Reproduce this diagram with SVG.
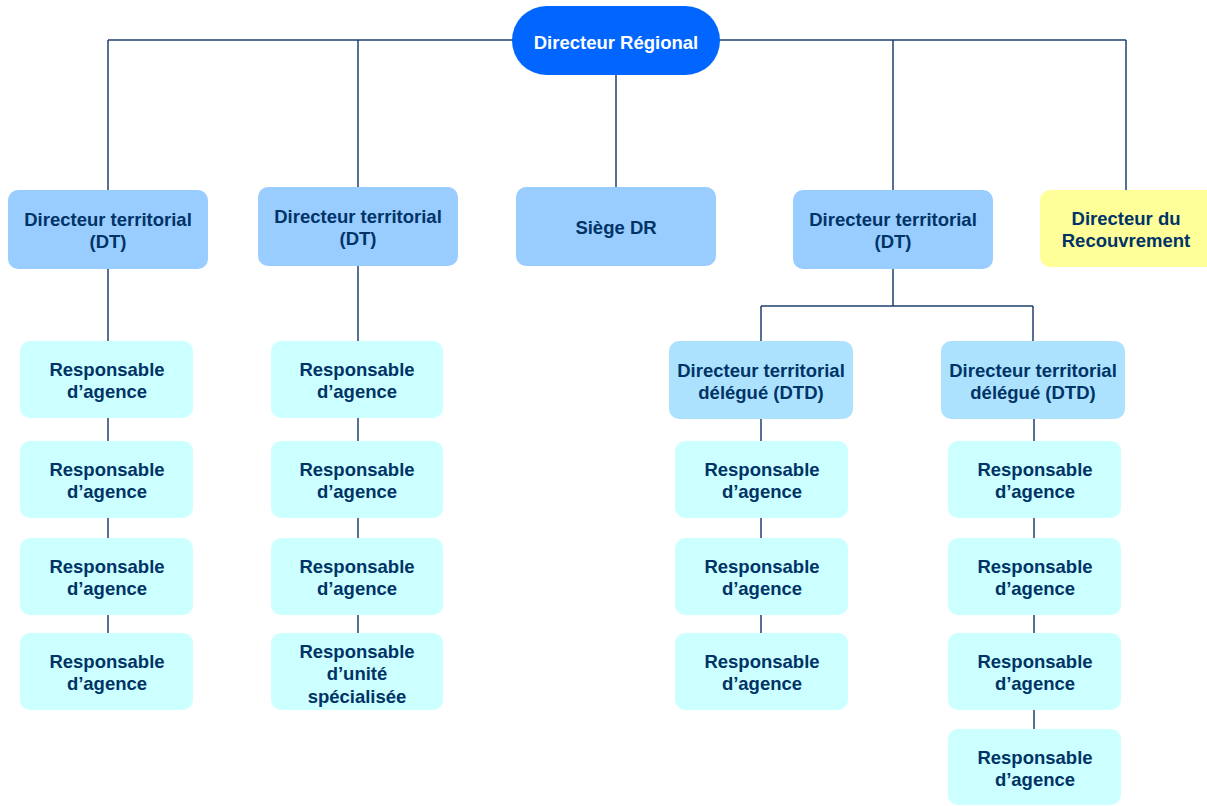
<svg xmlns="http://www.w3.org/2000/svg" width="1207" height="806" viewBox="0 0 1207 806">
<style>
.t{font-family:"Liberation Sans",Arial,sans-serif;font-weight:bold;font-size:18.5px;fill:#003366;text-anchor:middle}
.tw{fill:#ffffff}
.dt{fill:#99CCFF}
.dtd{fill:#ADE2FF}
.ra{fill:#CCFFFF}
.rc{fill:#FFFF99}
.top{fill:#0066FF}
.c{stroke:#1F3F6E;stroke-width:1.5;fill:none}
</style>
<rect width="1207" height="806" fill="#ffffff"/>
<g id="connectors" class="c">
<path d="M108,40 H1126"/>
<path d="M108,40 V190"/>
<path d="M358,40 V187"/>
<path d="M616,75 V187"/>
<path d="M893,40 V190"/>
<path d="M1126,40 V190"/>
<path d="M108,269 V710"/>
<path d="M358,266 V710"/>
<path d="M893,269 V306 M761,306 H1033 M761,306 V341 M1033,306 V341"/>
<path d="M761,419 V710"/>
<path d="M1034,419 V729"/>
</g>
<g id="dr"><rect class="top" x="512" y="6" width="208" height="69" rx="34.5"/><text class="t tw" x="616" y="48.5">Directeur Régional</text></g>
<g id="dt1"><rect class="dt" x="8" y="190" width="200" height="79" rx="10"/><text class="t" x="108" y="225.5">Directeur territorial</text><text class="t" x="108" y="247.5">(DT)</text></g>
<g id="dt2"><rect class="dt" x="258" y="187" width="200" height="79" rx="10"/><text class="t" x="358" y="222.5">Directeur territorial</text><text class="t" x="358" y="244.5">(DT)</text></g>
<g id="siege"><rect class="dt" x="516" y="187" width="200" height="79" rx="10"/><text class="t" x="616" y="233.5">Siège DR</text></g>
<g id="dt3"><rect class="dt" x="793" y="190" width="200" height="79" rx="10"/><text class="t" x="893" y="225.5">Directeur territorial</text><text class="t" x="893" y="247.5">(DT)</text></g>
<g id="recouv"><rect class="rc" x="1040" y="190" width="180" height="77" rx="10"/><text class="t" x="1126" y="224.5">Directeur du</text><text class="t" x="1126" y="246.5">Recouvrement</text></g>
<g id="dtd1"><rect class="dtd" x="669" y="341" width="184" height="78" rx="10"/><text class="t" x="761" y="376.5">Directeur territorial</text><text class="t" x="761" y="398.5">délégué (DTD)</text></g>
<g id="dtd2"><rect class="dtd" x="941" y="341" width="184" height="78" rx="10"/><text class="t" x="1033" y="376.5">Directeur territorial</text><text class="t" x="1033" y="398.5">délégué (DTD)</text></g>
<g id="r1a"><rect class="ra" x="20" y="341" width="173" height="77" rx="10"/><text class="t" x="107" y="376">Responsable</text><text class="t" x="107" y="398">d’agence</text></g>
<g id="r1b"><rect class="ra" x="20" y="441" width="173" height="77" rx="10"/><text class="t" x="107" y="476">Responsable</text><text class="t" x="107" y="498">d’agence</text></g>
<g id="r1c"><rect class="ra" x="20" y="538" width="173" height="77" rx="10"/><text class="t" x="107" y="573">Responsable</text><text class="t" x="107" y="595">d’agence</text></g>
<g id="r1d"><rect class="ra" x="20" y="633" width="173" height="77" rx="10"/><text class="t" x="107" y="668">Responsable</text><text class="t" x="107" y="690">d’agence</text></g>
<g id="r2a"><rect class="ra" x="271" y="341" width="172" height="77" rx="10"/><text class="t" x="357" y="376">Responsable</text><text class="t" x="357" y="398">d’agence</text></g>
<g id="r2b"><rect class="ra" x="271" y="441" width="172" height="77" rx="10"/><text class="t" x="357" y="476">Responsable</text><text class="t" x="357" y="498">d’agence</text></g>
<g id="r2c"><rect class="ra" x="271" y="538" width="172" height="77" rx="10"/><text class="t" x="357" y="573">Responsable</text><text class="t" x="357" y="595">d’agence</text></g>
<g id="r2d"><rect class="ra" x="271" y="633" width="172" height="77" rx="10"/><text class="t" x="357" y="657.5">Responsable</text><text class="t" x="357" y="680">d’unité</text><text class="t" x="357" y="702.5">spécialisée</text></g>
<g id="r3a"><rect class="ra" x="675" y="441" width="173" height="77" rx="10"/><text class="t" x="762" y="476">Responsable</text><text class="t" x="762" y="498">d’agence</text></g>
<g id="r3b"><rect class="ra" x="675" y="538" width="173" height="77" rx="10"/><text class="t" x="762" y="573">Responsable</text><text class="t" x="762" y="595">d’agence</text></g>
<g id="r3c"><rect class="ra" x="675" y="633" width="173" height="77" rx="10"/><text class="t" x="762" y="668">Responsable</text><text class="t" x="762" y="690">d’agence</text></g>
<g id="r4a"><rect class="ra" x="948" y="441" width="173" height="77" rx="10"/><text class="t" x="1035" y="476">Responsable</text><text class="t" x="1035" y="498">d’agence</text></g>
<g id="r4b"><rect class="ra" x="948" y="538" width="173" height="77" rx="10"/><text class="t" x="1035" y="573">Responsable</text><text class="t" x="1035" y="595">d’agence</text></g>
<g id="r4c"><rect class="ra" x="948" y="633" width="173" height="77" rx="10"/><text class="t" x="1035" y="668">Responsable</text><text class="t" x="1035" y="690">d’agence</text></g>
<g id="r4d"><rect class="ra" x="948" y="729" width="173" height="76" rx="10"/><text class="t" x="1035" y="764">Responsable</text><text class="t" x="1035" y="786">d’agence</text></g>
</svg>
